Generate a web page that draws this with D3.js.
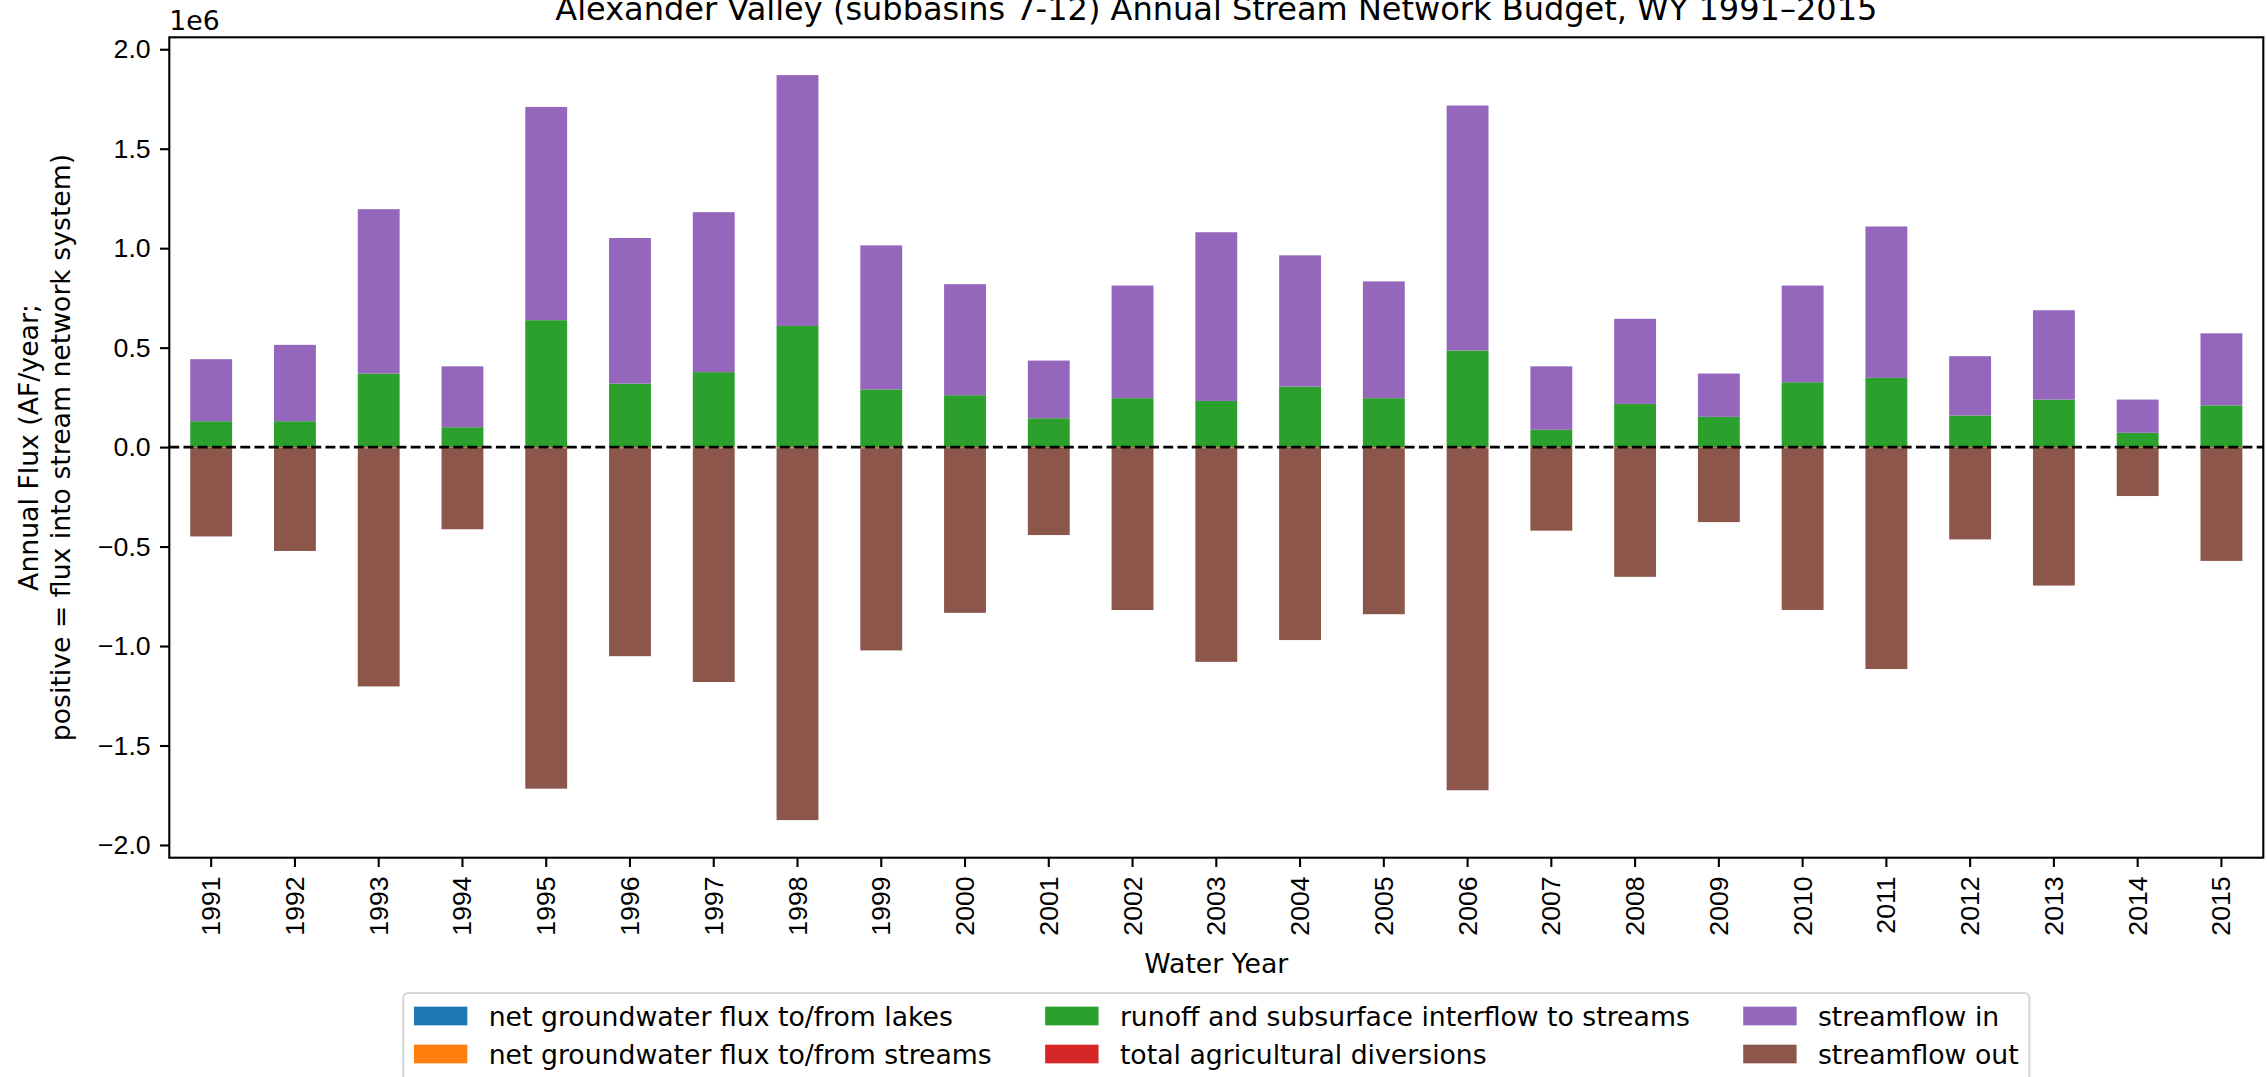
<!DOCTYPE html>
<html>
<head>
<meta charset="utf-8">
<script src="https://cdn.jsdelivr.net/npm/d3@7"></script>
<style>
  body { margin: 0; background: #fff; overflow: hidden; }
  svg { font-family: "DejaVu Sans", sans-serif; display: block; }
</style>
</head>
<body>
<div id="chart"></div>
<script>
const width = 2267;
const height = 1077;
const margin = {top: 37.3, right: 3.7, bottom: 219.3, left: 169.3};
const fs = 26.7;      // 10pt at this resolution
const tickLen = 9.3;

// water years
const years = ["1991","1992","1993","1994","1995","1996","1997","1998","1999","2000",
               "2001","2002","2003","2004","2005","2006","2007","2008","2009","2010",
               "2011","2012","2013","2014","2015"];

// annual fluxes, AF/year (positive = into stream network)
const lakes = [0,0,0,0,0,0,0,0,0,0,0,0,0,0,0,0,0,0,0,0,0,0,0,0,0];
const streams = [-1000,-1000,-2000,-1000,-2000,-2000,-2000,-2000,-2000,-1500,
                 -1000,-1500,-2000,-1500,-2500,-3000,-1000,-1500,-1000,-2000,
                 -2000,-1000,-1500,-500,-1000];
const runoff = [130000,130000,370000,100000,638000,319000,377000,609000,290000,261000,
                145000,246000,232000,304000,246000,486000,87000,217000,152000,326000,
                348000,159000,239000,72000,210000];
const agDiversions = [-3000,-3000,-4000,-3000,-4000,-4000,-4000,-4000,-4000,-3500,
                      -3000,-3500,-3500,-3500,-3500,-4000,-3000,-3500,-3000,-3500,
                      -3500,-3000,-3500,-2500,-3000];
const streamflowIn = [312000,384000,826000,306000,1072000,732000,804000,1261000,724000,558000,
                      290000,566000,848000,660000,587000,1231000,319000,428000,218000,486000,
                      761000,298000,449000,167000,362000];
const streamflowOut = [-445000,-518000,-1197000,-409000,-1711000,-1045000,-1175000,-1869000,-1016000,-828000,
                       -438000,-814000,-1074000,-965000,-834000,-1718000,-416000,-647000,-373000,-813000,
                       -1110000,-460000,-691000,-243000,-568000];

const seriesNames = ["net groundwater flux to/from lakes",
                     "net groundwater flux to/from streams",
                     "runoff and subsurface interflow to streams",
                     "total agricultural diversions",
                     "streamflow in",
                     "streamflow out"];
const seriesColors = ["#1f77b4","#ff7f0e","#2ca02c","#d62728","#9467bd","#8c564b"];
const yTicks = [-2.0e6,-1.5e6,-1.0e6,-0.5e6,0,0.5e6,1.0e6,1.5e6,2.0e6];
const yDomain = [-2.064e6, 2.06e6];

const seriesData = [lakes, streams, runoff, agDiversions, streamflowIn, streamflowOut];
const table = years.map((yr, i) => {
  const row = {year: yr};
  seriesNames.forEach((k, j) => row[k] = seriesData[j][i]);
  return row;
});

const svg = d3.select("#chart").append("svg")
              .attr("width", width)
              .attr("height", height);

const x = d3.scaleBand().domain(years)
            .range([margin.left, width - margin.right])
            .paddingInner(0.5).paddingOuter(0.25);
const y = d3.scaleLinear().domain(yDomain)
            .range([height - margin.bottom, margin.top]);
const color = d3.scaleOrdinal().domain(seriesNames).range(seriesColors);

// stacked bars, positives and negatives stacked apart (like pandas)
const stacked = d3.stack().keys(seriesNames)
                  .order(d3.stackOrderNone)
                  .offset(d3.stackOffsetDiverging)(table);

svg.append("g").selectAll("g")
  .data(stacked)
  .join("g")
  .attr("fill", d => color(d.key))
  .selectAll("rect")
  .data(d => d)
  .join("rect")
  .attr("x", d => x(d.data.year))
  .attr("width", x.bandwidth())
  .attr("y", d => y(Math.max(d[0], d[1])))
  .attr("height", d => Math.abs(y(d[0]) - y(d[1])));

// zero line
svg.append("line")
  .attr("x1", margin.left).attr("x2", width - margin.right)
  .attr("y1", y(0)).attr("y2", y(0))
  .attr("stroke", "#000")
  .attr("stroke-width", 2.67)
  .attr("stroke-dasharray", "9.9 4.3");

const fmt = d => (d / 1e6).toFixed(1).replace("-", "\u2212");

const yAxis = svg.append("g")
  .attr("transform", `translate(${margin.left},0)`)
  .call(d3.axisLeft(y).tickValues(yTicks).tickFormat(fmt).tickSize(tickLen).tickPadding(tickLen));
yAxis.select(".domain").remove();
yAxis.selectAll(".tick line").attr("stroke-width", 2.1);
yAxis.selectAll("text").style("font-size", fs + "px").attr("fill", "#000");

const xAxis = svg.append("g")
  .attr("transform", `translate(0,${height - margin.bottom})`)
  .call(d3.axisBottom(x).tickSize(tickLen).tickSizeOuter(0));
xAxis.select(".domain").remove();
xAxis.selectAll(".tick line").attr("stroke-width", 2.1);
xAxis.selectAll("text")
  .style("font-size", fs + "px")
  .attr("fill", "#000")
  .attr("y", 0).attr("x", 0).attr("dy", null)
  .attr("text-anchor", "end")
  .attr("dominant-baseline", "central")
  .attr("transform", `translate(0,${tickLen * 2}) rotate(-90)`);

// frame
svg.append("rect")
  .attr("x", margin.left).attr("y", margin.top)
  .attr("width", width - margin.left - margin.right)
  .attr("height", height - margin.top - margin.bottom)
  .attr("fill", "none")
  .attr("stroke", "#000")
  .attr("stroke-width", 2.1);

// title and labels
svg.append("text")
  .attr("x", (margin.left + width - margin.right) / 2)
  .attr("y", 20)
  .attr("text-anchor", "middle")
  .style("font-size", "32px")
  .text("Alexander Valley (subbasins 7-12) Annual Stream Network Budget, WY 1991\u20132015");

svg.append("text")
  .attr("x", margin.left)
  .attr("y", 30)
  .style("font-size", fs + "px")
  .text("1e6");

svg.append("text")
  .attr("x", (margin.left + width - margin.right) / 2)
  .attr("y", 973)
  .attr("text-anchor", "middle")
  .style("font-size", fs + "px")
  .text("Water Year");

const yMid = (margin.top + height - margin.bottom) / 2;
["Annual Flux (AF/year;", "positive = flux into stream network system)"].forEach((t, i) => {
  svg.append("text")
    .attr("transform", `translate(${38 + i * 32},${yMid}) rotate(-90)`)
    .attr("text-anchor", "middle")
    .style("font-size", fs + "px")
    .text(t);
});

// legend, 3 columns x 2 rows, centred under the axes
const handleW = 2 * fs, handleH = 0.7 * fs, textPad = 0.8 * fs, colGap = 2 * fs, borderPad = 0.4 * fs;
const legend = svg.append("g");
const box = legend.append("rect");
const legendRows = [1016, 1054];
const labels = seriesNames.map((name, i) => legend.append("text")
  .attr("y", legendRows[i % 2])
  .attr("dominant-baseline", "central")
  .style("font-size", fs + "px")
  .text(name));
const colW = [0, 1, 2].map(c => d3.max([labels[2 * c], labels[2 * c + 1]], t => t.node().getComputedTextLength()));
const totalW = 2 * borderPad + d3.sum(colW) + 3 * (handleW + textPad) + 2 * colGap;
const legendX = (margin.left + width - margin.right) / 2 - totalW / 2;
let cx = legendX + borderPad;
[0, 1, 2].forEach(c => {
  [0, 1].forEach(r => {
    const i = 2 * c + r;
    legend.append("rect")
      .attr("x", cx).attr("y", legendRows[r] - handleH / 2)
      .attr("width", handleW).attr("height", handleH)
      .attr("fill", color(seriesNames[i]));
    labels[i].attr("x", cx + handleW + textPad);
  });
  cx += handleW + textPad + colW[c] + colGap;
});
box.attr("x", legendX).attr("y", 993)
  .attr("width", totalW).attr("height", 120)
  .attr("rx", 5)
  .attr("fill", "#fff")
  .attr("stroke", "#d6d6d6")
  .attr("stroke-width", 2.1);
</script>
</body>
</html>
